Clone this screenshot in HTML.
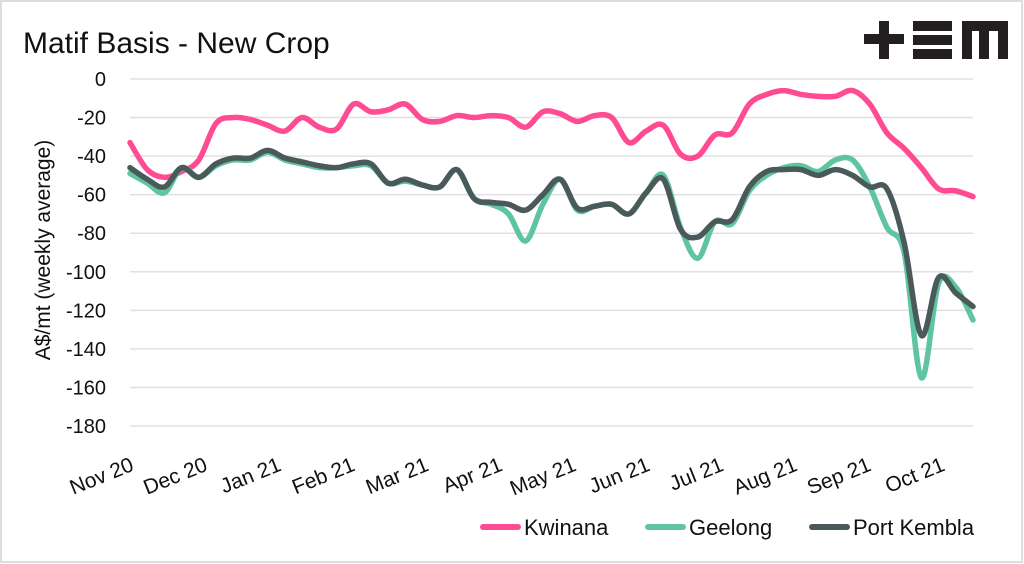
<!DOCTYPE html>
<html><head><meta charset="utf-8"><style>
body{margin:0;background:#fff;}
svg{display:block;font-family:"Liberation Sans",sans-serif;}
</style></head><body>
<svg width="1024" height="564" viewBox="0 0 1024 564">
<rect x="1" y="1" width="1021" height="561" fill="#fff" stroke="#ddd" stroke-width="2"/>
<text x="23" y="53" font-size="30" fill="#111">Matif Basis - New Crop</text>
<g fill="#231f20">
<rect x="864" y="34" width="40" height="10"/><rect x="879" y="21" width="10" height="38"/>
<rect x="913" y="21" width="39" height="10"/><rect x="913" y="35" width="39" height="10"/><rect x="913" y="49" width="39" height="10"/>
<rect x="962" y="21" width="46" height="10"/><rect x="962" y="21" width="10" height="38"/><rect x="979" y="21" width="10" height="38"/><rect x="998" y="21" width="10" height="38"/>
</g>
<g id="grid"></g><g id="ylab"></g><g id="xlab"></g><g id="lines"></g>
<text transform="translate(50,250) rotate(-90)" text-anchor="middle" font-size="21" fill="#111">A$/mt (weekly average)</text>
<g font-size="22" fill="#111">
<g><line x1="483" y1="527" x2="518" y2="527" stroke="#ff4b94" stroke-width="6" stroke-linecap="round"/><text x="524" y="535">Kwinana</text></g>
<g><line x1="648" y1="527" x2="683" y2="527" stroke="#5fc4a0" stroke-width="6" stroke-linecap="round"/><text x="689" y="535">Geelong</text></g>
<g><line x1="812" y1="527" x2="847" y2="527" stroke="#4a5a5a" stroke-width="6" stroke-linecap="round"/><text x="853" y="535">Port Kembla</text></g>
</g>
</svg>
<script>
const months=["Nov 20","Dec 20","Jan 21","Feb 21","Mar 21","Apr 21","May 21","Jun 21","Jul 21","Aug 21","Sep 21","Oct 21"];
const yTicks=[0,-20,-40,-60,-80,-100,-120,-140,-160,-180];
const kwinana=[-33,-47,-51,-48,-42,-23,-20,-21,-24,-27,-20,-25,-26,-13,-17,-16,-13,-21,-22,-19,-20,-19,-20,-25,-17,-18,-22,-19,-20,-33,-27,-24,-39,-40,-29,-28,-13,-8,-6,-8,-9,-9,-6,-13,-28,-36,-46,-57,-58,-61];
const geelong=[-49,-54,-59,-46,-51,-45,-42,-42,-38,-42,-44,-46,-46,-45,-45,-54,-53,-55,-56,-47,-62,-65,-70,-84,-65,-52,-68,-66,-65,-70,-59,-50,-77,-93,-74,-75,-58,-50,-46,-45,-48,-42,-42,-56,-77,-90,-155,-106,-108,-125];
const portKembla=[-46,-52,-56,-46,-51,-44,-41,-41,-37,-41,-43,-45,-46,-44,-44,-54,-52,-55,-56,-47,-62,-64,-65,-68,-60,-52,-67,-66,-65,-70,-59,-52,-78,-82,-74,-73,-56,-48,-47,-47,-50,-47,-50,-56,-57,-85,-133,-103,-111,-118];
const NS="http://www.w3.org/2000/svg";
const X0=130,X1=973,Y0=79,Y1=426;
const xs=i=>X0+i*(X1-X0)/(kwinana.length-1);
const ys=v=>Y0+(0-v)/180*(Y1-Y0);
const weeksPerMonth=4.286;
const g=document.getElementById('grid'),yl=document.getElementById('ylab'),xl=document.getElementById('xlab'),ln=document.getElementById('lines');
yTicks.forEach(t=>{
 const l=document.createElementNS(NS,'line');
 l.setAttribute('x1',X0);l.setAttribute('x2',X1);l.setAttribute('y1',ys(t));l.setAttribute('y2',ys(t));
 l.setAttribute('stroke','#e0e0e0');l.setAttribute('stroke-width','1.5');
 
 
 g.appendChild(l);
 const tx=document.createElementNS(NS,'text');
 tx.setAttribute('x',106);tx.setAttribute('y',ys(t)+7);tx.setAttribute('text-anchor','end');tx.setAttribute('font-size','20');tx.setAttribute('fill','#111');
 tx.textContent=t;
 
 
 yl.appendChild(tx);
});
months.forEach((m,k)=>{
 const x=xs(k*weeksPerMonth)+5;
 const tx=document.createElementNS(NS,'text');
 tx.setAttribute('transform','translate('+x+',470) rotate(-22)');
 tx.setAttribute('text-anchor','end');tx.setAttribute('font-size','21');tx.setAttribute('fill','#111');
 tx.textContent=m;
 
 
 xl.appendChild(tx);
});
function path(vals){
 const p=vals.map((v,i)=>[xs(i),ys(v)]);
 let d='M'+p[0][0]+','+p[0][1];
 for(let i=0;i<p.length-1;i++){
  const a=p[Math.max(i-1,0)],b=p[i],c=p[i+1],e=p[Math.min(i+2,p.length-1)];
  const c1=[b[0]+(c[0]-a[0])/6,b[1]+(c[1]-a[1])/6],c2=[c[0]-(e[0]-b[0])/6,c[1]-(e[1]-b[1])/6];
  d+=' C'+c1+' '+c2+' '+c;
 }
 return d;
}
[[kwinana,'#ff4b94','line-kwinana'],[geelong,'#5fc4a0','line-geelong'],[portKembla,'#4a5a5a','line-port-kembla']].forEach(s=>{
 const p=document.createElementNS(NS,'path');
 p.setAttribute('d',path(s[0]));p.setAttribute('fill','none');p.setAttribute('stroke',s[1]);
 p.setAttribute('stroke-width','5.5');p.setAttribute('stroke-linejoin','round');p.setAttribute('stroke-linecap','round');
 
 
 ln.appendChild(p);
});
</script>
</body></html>
